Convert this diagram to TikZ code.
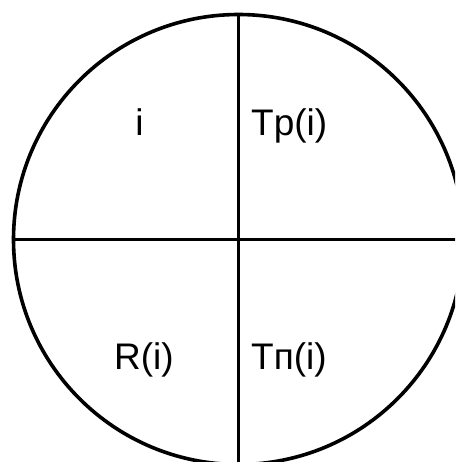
\documentclass[tikz,border=0pt]{standalone}
\usepackage{fontspec}
\setmainfont{Liberation Sans}
\usepackage{tikz}
\usetikzlibrary{positioning}

\begin{document}
\begin{tikzpicture}[x=1pt,y=-1pt,
  disc/.style={circle,draw=black,line width=3.6pt,minimum size=450pt,
               inner sep=0pt,outer sep=0pt},
  lbl/.style={font=\fontsize{37}{40}\selectfont,inner sep=0pt},
  cut/.style={draw=black,line width=3.6pt}]
\useasboundingbox (0,0) rectangle (455,462);
\clip (0,0) rectangle (455,462);
\fill[white] (0,0) rectangle (455,462);
\node[disc] (wheel) at (238.5,239.5) {};
\draw[cut] (wheel.north) -- (wheel.south);
\draw[cut] (wheel.west) -- (wheel.east);
\node[lbl,anchor=base] (self) at (139.5,136) {i};
\node[lbl,anchor=base west] (tp) at (251,136) {Tp(i)};
\node[lbl,anchor=base] (rev) at (144,369) {R(i)};
\node[lbl,anchor=base west] (tn) at (251,369) {Tп(i)};
\end{tikzpicture}
\end{document}
